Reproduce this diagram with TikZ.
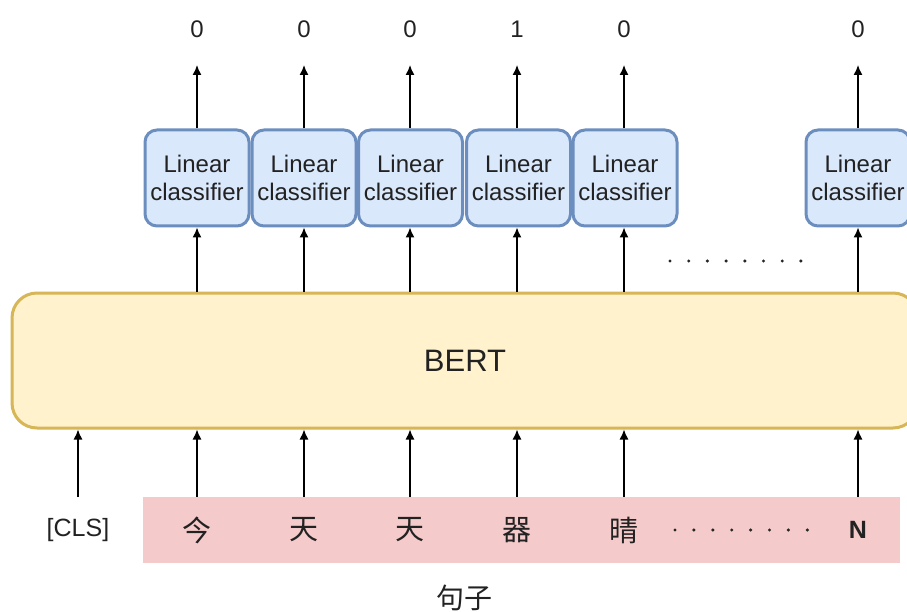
\documentclass[tikz,border=0pt]{standalone}
\usepackage{fontspec}
\setmainfont{Liberation Sans}
\newfontfamily\cjk{Noto Sans CJK SC}
\usetikzlibrary{arrows.meta}
\definecolor{clsfill}{HTML}{DAE8FC}
\definecolor{clsdraw}{HTML}{6C8EBF}
\definecolor{bertfill}{HTML}{FFF2CC}
\definecolor{bertdraw}{HTML}{D6B656}
\definecolor{sentfill}{HTML}{F5CACA}
\definecolor{txt}{HTML}{222222}
\newcommand{\px}[1]{\fontsize{#1}{1.15\dimexpr#1pt\relax}\selectfont}
\tikzset{
  classifier/.style={draw=clsdraw, fill=clsfill, line width=3pt, rounded corners=12pt,
    minimum width=104pt, minimum height=96pt, inner sep=0pt, align=center,
    text=txt, font=\px{24}},
  outlabel/.style={text=txt, font=\px{24}, inner sep=0pt},
  token/.style={text=txt, font=\cjk\px{29}, inner sep=0pt},
  arr/.style={line width=1.4pt, -{Latex[length=10pt,width=9pt]}},
  dot/.style={fill=black!85, draw=none, circle, inner sep=0pt, minimum size=3.4pt}
}
\begin{document}
\begin{tikzpicture}[x=1pt,y=-1pt]
  \useasboundingbox (0,0) rectangle (907,612);
  \fill[white] (0,0) rectangle (907,612);

  % BERT encoder block
  \node[draw=bertdraw, fill=bertfill, line width=3pt, rounded corners=25pt,
        minimum width=906pt, minimum height=135pt, inner sep=0pt,
        text=txt, font=\px{31}] (bert) at (465,360.5) {BERT};

  % sentence band
  \node[fill=sentfill, minimum width=757pt, minimum height=66pt, inner sep=0pt]
        (sent) at (521.5,530) {};

  % input tokens
  \node[text=txt, font=\px{25}, inner sep=0pt] (t0) at (78,530) {[CLS]};
  \node[token] (t1) at (197,530) {今};
  \node[token] (t2) at (304,530) {天};
  \node[token] (t3) at (410,530) {天};
  \node[token] (t4) at (517,530) {器};
  \node[token] (t5) at (624,530) {晴};
  \node[text=txt, font=\bfseries\px{25}, inner sep=0pt] (t6) at (858,530) {N};
  \node[token, font=\cjk\px{28}] (title) at (464,598) {句子};

  % per-token classifiers
  \node[classifier] (c1) at (197,178) {Linear\\classifier};
  \node[classifier] (c2) at (304,178) {Linear\\classifier};
  \node[classifier] (c3) at (410.5,178) {Linear\\classifier};
  \node[classifier] (c4) at (518.5,178) {Linear\\classifier};
  \node[classifier] (c5) at (625,178) {Linear\\classifier};
  \node[classifier] (c6) at (858,178) {Linear\\classifier};

  % outputs
  \node[outlabel] (o1) at (197,29) {0};
  \node[outlabel] (o2) at (304,29) {0};
  \node[outlabel] (o3) at (410,29) {0};
  \node[outlabel] (o4) at (517,29) {1};
  \node[outlabel] (o5) at (624,29) {0};
  \node[outlabel] (o6) at (858,29) {0};

  % input arrows into BERT
  \draw[arr] (t0 |- sent.north) -- (t0 |- bert.south);
  \foreach \i in {1,...,6}
    \draw[arr] (t\i |- sent.north) -- (t\i |- bert.south);

  % BERT to classifiers, classifiers to outputs
  \foreach \i in {1,...,6}{
    \draw[arr] (o\i |- bert.north) -- (o\i |- c\i.south);
    \draw[arr, shorten >=36pt] (o\i |- c\i.north) -- (o\i.center);
  }

  % ellipsis dots
  \foreach \k in {0,...,7}{
    \node[dot] (ud\k) at (670+18.7*\k,261) {};
    \node[dot] (ld\k) at (675+18.9*\k,530) {};
  }
\end{tikzpicture}
\end{document}
